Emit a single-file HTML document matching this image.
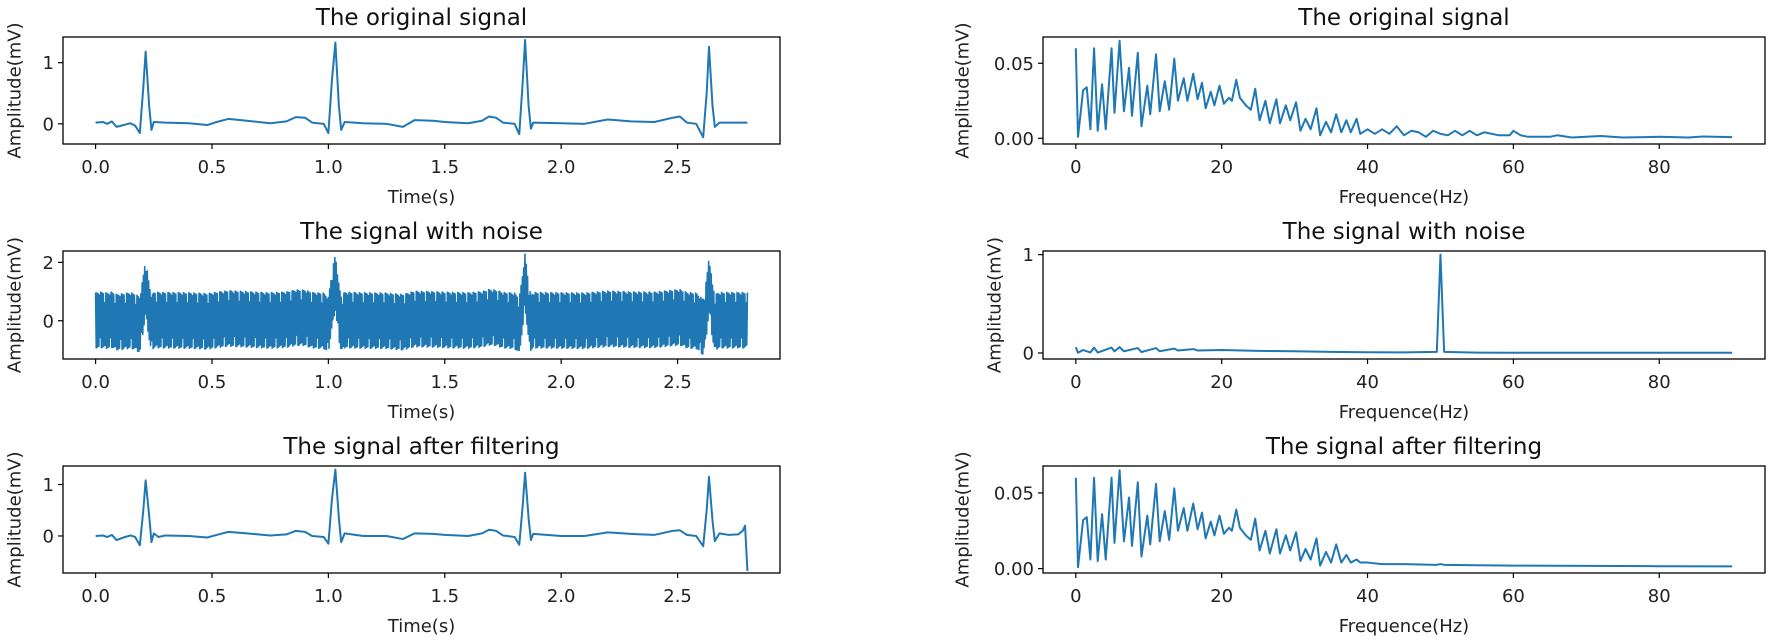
<!DOCTYPE html>
<html><head><meta charset="utf-8">
<style>
html,body{margin:0;padding:0;background:#fff;}
svg{display:block;font-family:"DejaVu Sans","Liberation Sans",sans-serif;}
</style></head>
<body>
<svg id="fig" width="1772" height="642" viewBox="0 0 1772 642" xmlns="http://www.w3.org/2000/svg"></svg>
<script>
// ---- Data ----
const ecgTimes = [0,0.03,0.05,0.07,0.09,0.12,0.15,0.17,0.19,0.205,0.215,0.23,0.24,0.25,0.3,0.4,0.48,0.52,0.57,0.65,0.75,0.82,0.86,0.9,0.93,0.98,1.0,1.015,1.03,1.045,1.055,1.07,1.15,1.25,1.32,1.37,1.45,1.5,1.6,1.66,1.69,1.72,1.75,1.8,1.82,1.835,1.845,1.86,1.87,1.88,2.0,2.1,2.2,2.3,2.4,2.48,2.51,2.54,2.58,2.61,2.625,2.635,2.65,2.66,2.68,2.8];
const ecgValues = [0.02,0.03,0,0.04,-0.05,-0.02,0.01,-0.03,-0.15,0.6,1.18,0.3,-0.1,0.03,0.02,0.01,-0.02,0.03,0.08,0.05,0.01,0.04,0.11,0.1,0.02,0,-0.15,0.7,1.33,0.3,-0.1,0.03,0.01,0,-0.05,0.06,0.05,0.03,0.01,0.05,0.12,0.1,0.02,0,-0.17,0.7,1.37,0.3,-0.08,0.02,0.01,0,0.07,0.04,0.03,0.1,0.12,0.02,0,-0.22,0.5,1.26,0.3,-0.05,0.02,0.02];
const filtTimes = [0,0.03,0.05,0.07,0.09,0.12,0.15,0.17,0.19,0.205,0.215,0.23,0.24,0.25,0.27,0.3,0.4,0.48,0.52,0.57,0.65,0.75,0.82,0.86,0.9,0.93,0.98,1.0,1.015,1.03,1.045,1.055,1.07,1.15,1.25,1.32,1.37,1.45,1.5,1.6,1.66,1.69,1.72,1.75,1.8,1.82,1.835,1.845,1.86,1.87,1.88,2.0,2.1,2.2,2.3,2.4,2.48,2.51,2.54,2.58,2.61,2.625,2.635,2.65,2.66,2.68,2.72,2.76,2.78,2.79,2.8];
const filtValues = [0,0.01,-0.02,0.02,-0.08,-0.03,0.01,-0.02,-0.18,0.5,1.08,0.4,-0.12,0.05,-0.02,0.01,0,-0.03,0.02,0.08,0.05,0.01,0.03,0.1,0.08,0,-0.02,-0.15,0.7,1.29,0.35,-0.12,0.05,0,0,-0.06,0.05,0.04,0.02,0,0.05,0.12,0.1,0.01,-0.02,-0.17,0.6,1.23,0.35,-0.08,0.04,0,0,0.07,0.04,0.02,0.1,0.11,0.02,0,-0.2,0.5,1.15,0.3,-0.1,0.05,0.02,0.03,0.1,0.2,-0.68];
const noisePattern = [0.95,-0.95,0.93,-0.92,0.9,-0.9,0.85,-0.6,0.95,-0.95,0.92,-0.93,0.9,-0.88,0.6,-0.85];
const sampleRate = 360;
const specFreq = [0,0.3,1.0,1.5,2.0,2.5,3.0,3.6,4.1,4.9,5.3,6.0,6.6,7.3,7.7,8.5,9.0,9.8,10.2,11.0,11.5,12.2,12.8,13.5,14.0,14.8,15.3,16.1,16.7,17.3,17.8,18.5,19.0,19.7,20.3,21.0,21.4,22.0,22.5,23.3,24.0,24.6,25.2,26.0,26.6,27.5,28.0,28.8,29.4,30.2,30.8,31.5,32.2,33.0,33.5,34.3,35.0,35.7,36.4,37.1,37.7,38.5,39.0,40,41,42,43,44,45,46,47,48,49,50,51,52,53,54,55,56,58,59.5,60,61,62,65,66,68,72,75,80,84,86,90];
const specOrig = [0.060,0.001,0.032,0.034,0.006,0.060,0.005,0.036,0.006,0.060,0.017,0.065,0.018,0.047,0.015,0.057,0.008,0.035,0.016,0.056,0.018,0.038,0.019,0.053,0.025,0.040,0.025,0.043,0.026,0.037,0.020,0.031,0.022,0.035,0.023,0.027,0.025,0.039,0.027,0.022,0.019,0.033,0.012,0.025,0.010,0.026,0.010,0.022,0.012,0.024,0.005,0.013,0.006,0.020,0.002,0.011,0.004,0.016,0.004,0.012,0.004,0.013,0.003,0.006,0.003,0.006,0.003,0.008,0.002,0.005,0.004,0.001,0.005,0.003,0.002,0.005,0.002,0.005,0.002,0.004,0.002,0.002,0.005,0.002,0.001,0.001,0.002,0.0005,0.0015,0.0005,0.001,0.0005,0.0012,0.0008];
const noiseFreq = [0,0.3,1.0,2.0,2.5,3.0,4.9,5.3,6.0,6.6,8.5,9.0,11.0,11.5,13.5,14.0,16.1,16.7,20,25,30,35,40,45,49.5,50,50.5,55,60,70,80,90];
const noiseAmp = [0.060,0.002,0.03,0.006,0.055,0.005,0.055,0.017,0.06,0.018,0.05,0.01,0.05,0.018,0.045,0.025,0.04,0.026,0.03,0.022,0.018,0.012,0.008,0.006,0.012,1.0,0.012,0.004,0.003,0.002,0.002,0.002];
const filtSpecFreq = specFreq.slice(0,59).concat([37.1,37.7,38.5,39.0,40,42,45,49.5,50,50.5,55,60,70,80,90]);
const filtSpec = specOrig.slice(0,59).concat([0.009,0.004,0.006,0.004,0.004,0.003,0.003,0.0025,0.003,0.0025,0.0022,0.002,0.0018,0.0016,0.0015]);

const xTicksTime = [0,0.5,1.0,1.5,2.0,2.5];
const xTickLabelsTime = ["0.0","0.5","1.0","1.5","2.0","2.5"];
const xTicksFreq = [0,20,40,60,80];
const xTickLabelsFreq = ["0","20","40","60","80"];

// ---- Drawing ----
const NS = "http://www.w3.org/2000/svg";
const svg = document.getElementById('fig');
function mk(tag, attrs, parent){ const e=document.createElementNS(NS,tag); for(const k in attrs) e.setAttribute(k,attrs[k]); (parent||svg).appendChild(e); return e; }
function lin(d0,d1,r0,r1){ return v => r0 + (v-d0)*(r1-r0)/(d1-d0); }

function panel(cfg){
  const g = mk('g',{});
  
  
  const sx = lin(cfg.xd[0],cfg.xd[1],cfg.L,cfg.R);
  const sy = lin(cfg.yd[0],cfg.yd[1],cfg.B,cfg.T);
  let d='';
  for(let i=0;i<cfg.xs.length;i++){ d += (i?'L':'M')+sx(cfg.xs[i]).toFixed(2)+','+sy(cfg.ys[i]).toFixed(2); }
  const p = mk('path',{d:d,fill:'none',stroke:'#1f77b4','stroke-width':cfg.lw||2,'stroke-linejoin':'round'},g);
  
  
  const r = mk('rect',{x:cfg.L,y:cfg.T,width:cfg.R-cfg.L,height:cfg.B-cfg.T,fill:'none',stroke:'#000','stroke-width':1.3},g);
  
  
  cfg.xt.forEach((v,i)=>{
    const x=sx(v);
    mk('line',{x1:x,x2:x,y1:cfg.B,y2:cfg.B+5,stroke:'#000','stroke-width':1.2},g);
    const t=mk('text',{x:x,y:cfg.B+29,'text-anchor':'middle','font-size':18,fill:'#222'},g);
    t.textContent=cfg.xl[i];
    
    
  });
  cfg.yt.forEach((v,i)=>{
    const y=sy(v);
    mk('line',{x1:cfg.L-5,x2:cfg.L,y1:y,y2:y,stroke:'#000','stroke-width':1.2},g);
    const t=mk('text',{x:cfg.L-9,y:y+6.5,'text-anchor':'end','font-size':18,fill:'#222'},g);
    t.textContent=cfg.yl[i];
    
    
  });
  const tt=mk('text',{x:(cfg.L+cfg.R)/2,y:cfg.T-12,'text-anchor':'middle','font-size':23,fill:'#111'},g);
  tt.textContent=cfg.title;
  
  
  const xl=mk('text',{x:(cfg.L+cfg.R)/2,y:cfg.B+59,'text-anchor':'middle','font-size':18,fill:'#222'},g);
  xl.textContent=cfg.xlabel;
  
  
  const cy=(cfg.T+cfg.B)/2;
  const yl=mk('text',{x:cfg.ylx,y:cy,'text-anchor':'middle','font-size':18,fill:'#222',transform:'rotate(-90 '+cfg.ylx+' '+cy+')','dominant-baseline':'central'},g);
  yl.textContent='Amplitude(mV)';
  
  
}

function ecgAt(t){ for(let i=1;i<ecgTimes.length;i++){ if(t<=ecgTimes[i]){ const a=ecgTimes[i-1],b=ecgTimes[i]; return ecgValues[i-1]+(ecgValues[i]-ecgValues[i-1])*(t-a)/(b-a);} } return ecgValues[ecgValues.length-1]; }
const noisyT=[], noisyV=[];
for(let i=0;i<=Math.round(2.8*sampleRate);i++){ const t=i/sampleRate; noisyT.push(t); noisyV.push(ecgAt(t)+noisePattern[i%noisePattern.length]); }

const Lx=[63,780], Rx=[1043,1765];
const tx=[-0.14,2.94], fx=[-4.5,94.5];
panel({name:'time-original',L:Lx[0],R:Lx[1],T:37,B:144,xd:tx,yd:[-0.33,1.42],xs:ecgTimes,ys:ecgValues,xt:xTicksTime,xl:xTickLabelsTime,yt:[0,1],yl:['0','1'],title:'The original signal',xlabel:'Time(s)',ylx:15});
panel({name:'time-noisy',L:Lx[0],R:Lx[1],T:251,B:359,xd:tx,yd:[-1.31,2.39],xs:noisyT,ys:noisyV,xt:xTicksTime,xl:xTickLabelsTime,yt:[0,2],yl:['0','2'],title:'The signal with noise',xlabel:'Time(s)',ylx:15,lw:1.6});
panel({name:'time-filtered',L:Lx[0],R:Lx[1],T:466,B:573,xd:tx,yd:[-0.72,1.36],xs:filtTimes,ys:filtValues,xt:xTicksTime,xl:xTickLabelsTime,yt:[0,1],yl:['0','1'],title:'The signal after filtering',xlabel:'Time(s)',ylx:15});
panel({name:'freq-original',L:Rx[0],R:Rx[1],T:37,B:144,xd:fx,yd:[-0.0038,0.0675],xs:specFreq,ys:specOrig,xt:xTicksFreq,xl:xTickLabelsFreq,yt:[0,0.05],yl:['0.00','0.05'],title:'The original signal',xlabel:'Frequence(Hz)',ylx:963});
panel({name:'freq-noisy',L:Rx[0],R:Rx[1],T:251,B:359,xd:fx,yd:[-0.061,1.037],xs:noiseFreq,ys:noiseAmp,xt:xTicksFreq,xl:xTickLabelsFreq,yt:[0,1],yl:['0','1'],title:'The signal with noise',xlabel:'Frequence(Hz)',ylx:995});
panel({name:'freq-filtered',L:Rx[0],R:Rx[1],T:466,B:573,xd:fx,yd:[-0.0029,0.0678],xs:filtSpecFreq,ys:filtSpec,xt:xTicksFreq,xl:xTickLabelsFreq,yt:[0,0.05],yl:['0.00','0.05'],title:'The signal after filtering',xlabel:'Frequence(Hz)',ylx:963});
</script>
</body></html>
